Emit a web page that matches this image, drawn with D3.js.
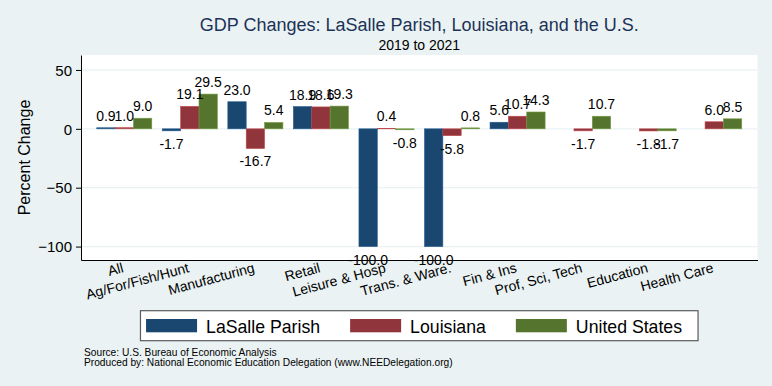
<!DOCTYPE html>
<html>
<head>
<meta charset="utf-8">
<script src="https://cdn.jsdelivr.net/npm/d3@7"></script>
<style>
  body { margin: 0; background: #eaf2f3; }
  svg { display: block; font-family: "Liberation Sans", Arial, sans-serif; }
</style>
</head>
<body>
<div id="chart"></div>
<script>
// Industries along the x axis
var categories = ["All", "Ag/For/Fish/Hunt", "Manufacturing", "Retail", "Leisure & Hosp",
                  "Trans. & Ware.", "Fin & Ins", "Prof, Sci, Tech", "Education", "Health Care"];

// Percent change 2019-2021 (null = no data)
var lasalle = [0.9, -1.7, 23.0, 18.9, -100.0, -100.0, 5.6, null, null, null];
var louisiana = [1.0, 19.1, -16.7, 18.6, 0.4, -5.8, 10.7, -1.7, -1.8, 6.0];
var unitedStates = [9.0, 29.5, 5.4, 19.3, -0.8, 0.8, 14.3, 10.7, -1.7, 8.5];

var seriesNames = ["LaSalle Parish", "Louisiana", "United States"];
var seriesColors = ["#1a476f", "#90353b", "#55752f"];
var yTicks = [-100, -50, 0, 50];

var series = [lasalle, louisiana, unitedStates];

var width = 772, height = 386;
var plotLeft = 81, plotRight = 757.5, plotTop = 55, plotBottom = 260;

var svg = d3.select("#chart")
            .append("svg")
            .attr("width", width)
            .attr("height", height);

// Graph region background
svg.append("rect")
   .attr("width", width)
   .attr("height", height)
   .attr("fill", "#eaf2f3");

// Plot region
svg.append("rect")
   .attr("x", plotLeft)
   .attr("y", plotTop)
   .attr("width", plotRight - plotLeft)
   .attr("height", plotBottom - plotTop)
   .attr("fill", "#ffffff");

// Scales
var x0 = d3.scaleBand()
           .domain(categories)
           .range([plotLeft, plotRight])
           .paddingInner(0.16)
           .paddingOuter(0.24);

var x1 = d3.scaleBand()
           .domain(d3.range(series.length))
           .range([0, x0.bandwidth()]);

var yScale = d3.scaleLinear()
               .domain([-111.4, 62.7])
               .range([plotBottom, plotTop]);

// Gridlines
svg.selectAll("line.grid")
   .data(yTicks)
   .enter()
   .append("line")
   .attr("class", "grid")
   .attr("x1", plotLeft)
   .attr("x2", plotRight)
   .attr("y1", function(d) { return yScale(d); })
   .attr("y2", function(d) { return yScale(d); })
   .attr("stroke", "#eaf2f3")
   .attr("stroke-width", 1.2);

// Flatten the data to one record per bar
var bars = [];
categories.forEach(function(c, i) {
    series.forEach(function(s, j) {
        if (s[i] !== null) bars.push({ cat: c, s: j, value: s[i] });
    });
});

svg.selectAll("rect.bar")
   .data(bars)
   .enter()
   .append("rect")
   .attr("class", "bar")
   .attr("x", function(d) { return x0(d.cat) + x1(d.s); })
   .attr("y", function(d) { return yScale(Math.max(0, d.value)); })
   .attr("width", x1.bandwidth())
   .attr("height", function(d) { return Math.abs(yScale(d.value) - yScale(0)); })
   .attr("fill", function(d) { return seriesColors[d.s]; })
   .attr("stroke", function(d) { return d3.color(seriesColors[d.s]).brighter(0.8); })
   .attr("stroke-width", 0.6);

// Value labels outside the bar end
svg.selectAll("text.value")
   .data(bars)
   .enter()
   .append("text")
   .attr("class", "value")
   .attr("x", function(d) { return x0(d.cat) + x1(d.s) + x1.bandwidth() / 2; })
   .attr("y", function(d) {
       return d.value >= 0 ? yScale(d.value) - 7 : yScale(d.value) + 18;
   })
   .attr("text-anchor", "middle")
   .attr("font-size", "14px")
   .attr("fill", "#000")
   .text(function(d) { return d.value.toFixed(1); });

// Y axis
var yAxis = svg.append("g")
   .attr("transform", "translate(" + plotLeft + ",0)")
   .call(d3.axisLeft(yScale).tickValues(yTicks).tickSize(5).tickSizeOuter(0).tickPadding(4));
yAxis.selectAll("text").attr("font-size", "15px").attr("fill", "#000").attr("dy", "0.35em");
yAxis.select(".domain").attr("stroke", "#000");
yAxis.selectAll(".tick line").attr("stroke", "#000");

// X axis with slanted labels
var xAxis = svg.append("g")
   .attr("transform", "translate(0," + plotBottom + ")")
   .call(d3.axisBottom(x0).tickSize(0).tickSizeOuter(0));
xAxis.select(".domain").attr("stroke", "#000");
xAxis.selectAll("text")
     .attr("y", 0)
     .attr("dy", 0)
     .attr("font-size", "14px")
     .attr("fill", "#000")
     .attr("text-anchor", "end")
     .attr("transform", "translate(0,12) rotate(-15)");

// Axis title
svg.append("text")
   .attr("transform", "translate(29.5," + ((plotTop + plotBottom) / 2) + ") rotate(-90)")
   .attr("text-anchor", "middle")
   .attr("font-size", "16px")
   .text("Percent Change");

// Titles
var cx = (plotLeft + plotRight) / 2;
svg.append("text")
   .attr("x", cx)
   .attr("y", 31)
   .attr("text-anchor", "middle")
   .attr("font-size", "18px")
   .attr("fill", "#1c3257")
   .text("GDP Changes: LaSalle Parish, Louisiana, and the U.S.");

svg.append("text")
   .attr("x", cx)
   .attr("y", 50)
   .attr("text-anchor", "middle")
   .attr("font-size", "14px")
   .text("2019 to 2021");

// Legend
var legend = svg.append("g");
var legendBox = legend.append("rect")
   .attr("fill", "#fff")
   .attr("stroke", "#5a5a5a")
   .attr("stroke-width", 1.2);

var lx = 0;
seriesNames.forEach(function(name, i) {
    legend.append("rect")
          .attr("x", lx)
          .attr("y", 319)
          .attr("width", 51)
          .attr("height", 13.3)
          .attr("fill", seriesColors[i]);
    var t = legend.append("text")
          .attr("x", lx + 60)
          .attr("y", 333.3)
          .attr("font-size", "17.7px")
          .text(name);
    lx += 60 + t.node().getComputedTextLength() + 30;
});
var itemsWidth = lx - 30;
var padL = 5.6, padR = 16;
var boxWidth = itemsWidth + padL + padR;
var boxX = cx - boxWidth / 2;
legendBox.attr("x", boxX)
         .attr("y", 310.7)
         .attr("width", boxWidth)
         .attr("height", 30);
legend.selectAll("rect:not(:first-child), text")
      .attr("transform", "translate(" + (boxX + padL) + ",0)");

// Notes
svg.append("text")
   .attr("x", 84)
   .attr("y", 356)
   .attr("font-size", "10.2px")
   .text("Source: U.S. Bureau of Economic Analysis");

svg.append("text")
   .attr("x", 84)
   .attr("y", 366)
   .attr("font-size", "10.2px")
   .text("Produced by: National Economic Education Delegation (www.NEEDelegation.org)");
</script>
</body>
</html>
